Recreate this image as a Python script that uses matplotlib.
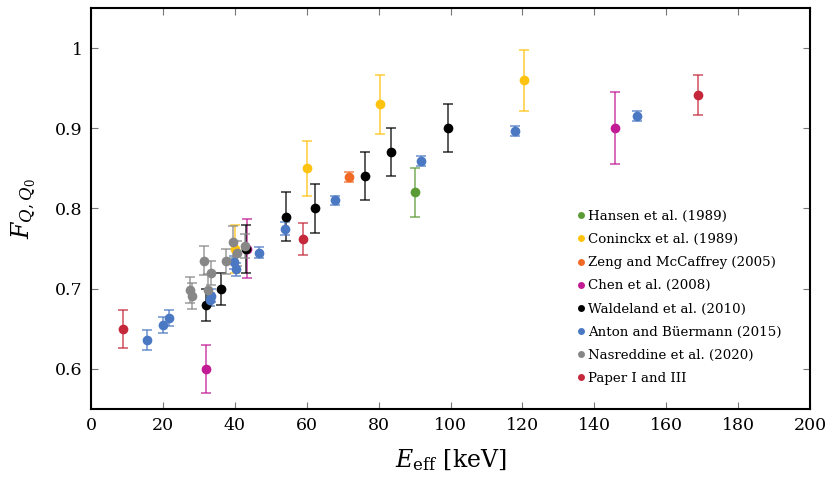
import numpy as np
import matplotlib
matplotlib.use("Agg")
import matplotlib.pyplot as plt
from matplotlib.lines import Line2D

plt.rcParams['font.family'] = ['DejaVu Serif']
plt.rcParams['mathtext.fontset'] = 'dejavuserif'

# ---- data (keV, F_Q,Q0, +/- uncertainty) ----
hansen_x = [90.1]
hansen_y = [0.82]
hansen_e = [0.03]

coninckx_x = [40.1, 60.1, 80.4, 120.4]
coninckx_y = [0.75, 0.85, 0.93, 0.96]
coninckx_e = [0.03, 0.034, 0.037, 0.038]

zeng_x = [71.8]
zeng_y = [0.839]
zeng_e = [0.006]

chen_x = [32.0, 43.4, 145.8]
chen_y = [0.60, 0.75, 0.90]
chen_e = [0.03, 0.037, 0.045]

walde_x = [32.0, 36.2, 43.1, 54.2, 62.3, 76.2, 83.4, 99.3]
walde_y = [0.68, 0.70, 0.75, 0.79, 0.80, 0.84, 0.87, 0.90]
walde_e = [0.02, 0.02, 0.03, 0.03, 0.03, 0.03, 0.03, 0.03]

anton_x = [15.6, 20.0, 21.7, 33.1, 33.4, 39.8, 40.3, 46.7, 54.0, 67.9, 91.8, 117.9, 151.9]
anton_y = [0.636, 0.655, 0.663, 0.686, 0.691, 0.733, 0.724, 0.745, 0.775, 0.81, 0.859, 0.897, 0.915]
anton_e = [0.012, 0.01, 0.01, 0.008, 0.008, 0.008, 0.008, 0.007, 0.008, 0.006, 0.006, 0.006, 0.006]

nasr_x = [27.5, 28.1, 31.4, 32.5, 33.4, 37.6, 39.5, 40.6, 42.8]
nasr_y = [0.698, 0.691, 0.735, 0.698, 0.72, 0.734, 0.758, 0.744, 0.753]
nasr_e = [0.016, 0.016, 0.018, 0.02, 0.015, 0.016, 0.02, 0.016, 0.015]

paper_x = [8.9, 59.0, 168.8]
paper_y = [0.65, 0.762, 0.941]
paper_e = [0.024, 0.02, 0.025]

series = [
    ('Hansen et al. (1989)', hansen_x, hansen_y, hansen_e, '#5b9b35'),
    ('Coninckx et al. (1989)', coninckx_x, coninckx_y, coninckx_e, '#ffc20e'),
    ('Zeng and McCaffrey (2005)', zeng_x, zeng_y, zeng_e, '#f06a26'),
    ('Chen et al. (2008)', chen_x, chen_y, chen_e, '#c21a94'),
    ('Waldeland et al. (2010)', walde_x, walde_y, walde_e, '#000000'),
    ('Anton and Büermann (2015)', anton_x, anton_y, anton_e, '#4a78c2'),
    ('Nasreddine et al. (2020)', nasr_x, nasr_y, nasr_e, '#878787'),
    ('Paper I and III', paper_x, paper_y, paper_e, '#c4283a'),
]

fig = plt.figure(figsize=(8.3, 4.82), dpi=100)
ax = fig.add_axes([0.1096, 0.1515, 0.8664, 0.8319])

handles = []
for label, x, y, e, c in series:
    ax.errorbar(x, y, yerr=e, fmt='none', ecolor=c, alpha=0.75,
                elinewidth=1.2, capsize=3.6, capthick=1.2, zorder=2)
    ax.plot(x, y, 'o', color=c, markersize=7, markeredgewidth=0, zorder=3)
    handles.append(Line2D([], [], marker='o', color=c, linestyle='none',
                          markersize=5, markeredgewidth=0, label=label))

ax.set_xlim(0, 200)
ax.set_ylim(0.55, 1.05)
ax.set_xticks(np.arange(0, 201, 20))
ax.set_yticks([0.6, 0.7, 0.8, 0.9, 1.0])
ax.set_yticklabels(['0.6', '0.7', '0.8', '0.9', '1'])
ax.tick_params(direction='in', top=True, right=True, length=5, width=0.8,
               color='#777777', labelsize=12.5, pad=6)
for s in ax.spines.values():
    s.set_linewidth(1.5)

ax.set_xlabel(r'$E_{\mathrm{eff}}$ [keV]', fontsize=17, labelpad=9)
ax.set_ylabel(r'$F_{Q,Q_0}$', fontsize=17, labelpad=12)

ax.legend(handles=handles, loc='lower right', bbox_to_anchor=(0.972, 0.04),
          frameon=False, fontsize=9.6, handletextpad=0.05, handlelength=1.0,
          labelspacing=0.76, borderaxespad=0.2)

fig.savefig('out.png', dpi=100)
